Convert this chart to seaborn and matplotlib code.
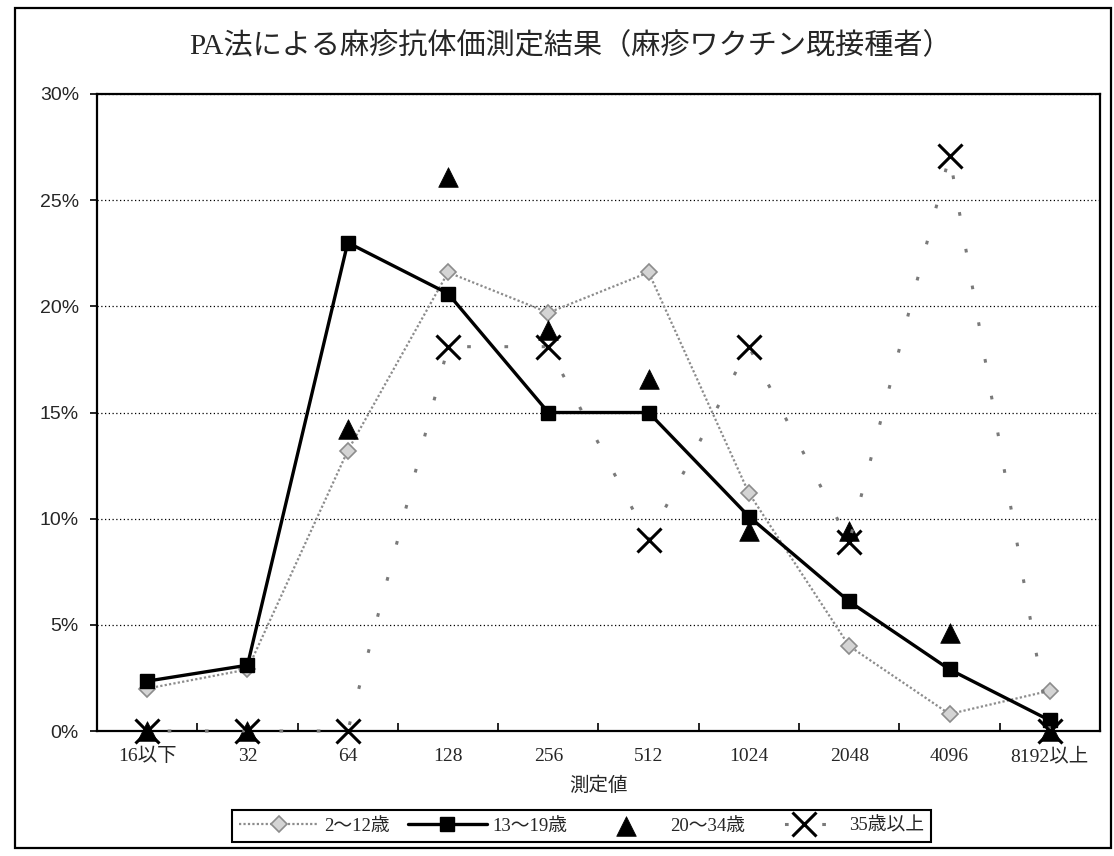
import matplotlib
matplotlib.use("Agg")
import numpy as np
import pandas as pd
import seaborn as sns
import matplotlib.pyplot as plt
from matplotlib.ticker import PercentFormatter, FixedLocator, MultipleLocator
from matplotlib.patches import Rectangle

# Measured PA titer classes and share of subjects (%) per age group
categories = ['16以下', '32', '64', '128', '256', '512', '1024', '2048', '4096', '8192以上']
age_2_12 = [2.0, 2.9, 13.2, 21.6, 19.7, 21.6, 11.2, 4.0, 0.8, 1.9]
age_13_19 = [2.35, 3.1, 23.0, 20.6, 15.0, 15.0, 10.1, 6.1, 2.9, 0.5]
age_20_34 = [0, 0, 14.2, 26.1, 18.9, 16.6, 9.4, 9.4, 4.6, 0]
age_35_up = [0, 0, 0, 18.1, 18.1, 9.0, 18.1, 8.9, 27.1, 0]
series_labels = ['2～12歳', '13～19歳', '20～34歳', '35歳以上']

title_text = 'PA法による麻疹抗体価測定結果（麻疹ワクチン既接種者）'
xlabel_text = '測定値'

sns.set_theme(style='white')
plt.rcParams['font.family'] = ['Liberation Serif', 'Noto Sans CJK JP', 'DejaVu Sans']
plt.rcParams['axes.unicode_minus'] = False

pos = np.arange(len(categories))
df = pd.DataFrame({
    'pos': pos,
    'a': age_2_12,
    'b': age_13_19,
    'c': age_20_34,
    'd': age_35_up,
})

fig = plt.figure(figsize=(11.14, 8.56), dpi=100)
fig.patch.set_facecolor('white')
ax = fig.add_axes([0.0871, 0.146, 0.9003, 0.7442])
ax.set_facecolor('white')

# 2-12: fine grey dotted line with grey diamonds
sns.lineplot(data=df, x='pos', y='a', ax=ax, color='#8c8c8c', linewidth=1.6,
             linestyle=(0, (1, 1)), marker='D', markersize=8,
             markerfacecolor='#d4d4d4', markeredgecolor='#8c8c8c',
             markeredgewidth=1.2, label=series_labels[0], zorder=3,
             clip_on=False)
# 13-19: solid black line with squares
sns.lineplot(data=df, x='pos', y='b', ax=ax, color='black', linewidth=2.4,
             marker='s', markersize=10, markerfacecolor='black',
             markeredgecolor='black', markeredgewidth=1,
             label=series_labels[1], zorder=5, clip_on=False)
# 20-34: triangles only
sns.scatterplot(data=df, x='pos', y='c', ax=ax, color='black', marker='^',
                s=200, edgecolor='black', linewidth=0.5,
                label=series_labels[2], zorder=6, clip_on=False)
# 35+: sparse grey dotted line with crosses
sns.lineplot(data=df, x='pos', y='d', ax=ax, color='#7a7a7a', linewidth=2.2,
             linestyle=(5.5, (1.2, 11)), marker='x', markersize=17,
             markeredgecolor='black', markeredgewidth=2.2,
             label=series_labels[3], zorder=7, clip_on=False)

ax.set_xlim(-0.5, len(categories) - 0.5)
ax.set_ylim(0, 30)
ax.yaxis.set_major_locator(MultipleLocator(5))
ax.yaxis.set_major_formatter(PercentFormatter(decimals=0))
ax.grid(axis='y', color='black', linestyle=(0, (1, 2)), linewidth=0.9)
ax.grid(axis='x', visible=False)

ax.set_xticks(pos)
ax.set_xticklabels(categories, fontsize=14,
                   family=['Liberation Serif', 'Noto Sans CJK JP'])
ax.xaxis.set_minor_locator(FixedLocator(pos[:-1] + 0.5))
ax.tick_params(axis='x', which='major', length=0, pad=12)
ax.tick_params(axis='x', which='minor', direction='in', length=6,
               width=1.2, color='black', bottom=True)
ax.tick_params(axis='y', which='major', direction='out', length=5,
               width=1.2, color='black', left=True, pad=8)
for lbl in ax.get_yticklabels():
    lbl.set_family(['Liberation Sans', 'DejaVu Sans'])
    lbl.set_fontsize(14)

for sp in ax.spines.values():
    sp.set_visible(True)
    sp.set_color('black')
    sp.set_linewidth(1.6)

ax.set_ylabel('')
ax.set_xlabel(xlabel_text, fontsize=14,
              family=['Noto Sans CJK JP'], labelpad=7)

fig.text(0.512, 0.946, title_text, ha='center', va='center', fontsize=21,
         family=['Liberation Serif', 'Noto Sans CJK JP'])

handles, labels = ax.get_legend_handles_labels()
leg = ax.legend(handles, labels, ncol=4, loc='center',
                bbox_to_anchor=(0.522, 0.035), bbox_transform=fig.transFigure,
                frameon=True, fancybox=False, shadow=False, framealpha=1,
                edgecolor='black', handlelength=4.2,
                handletextpad=0.3, columnspacing=1.0, borderpad=0.4,
                borderaxespad=0,
                prop={'family': ['Liberation Serif', 'Noto Sans CJK JP'],
                      'size': 13.5})
leg.get_frame().set_linewidth(1.5)

# Outer chart border
fig.add_artist(Rectangle((15 / 1114, 1 - 848 / 856), (1111 - 15) / 1114,
                         (848 - 8) / 856, transform=fig.transFigure,
                         fill=False, edgecolor='black', linewidth=1.6))

fig.savefig('out.png', dpi=100, facecolor='white')
